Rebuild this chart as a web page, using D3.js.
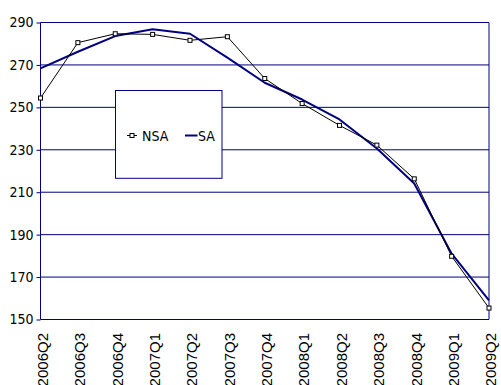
<!DOCTYPE html>
<html>
<head>
<meta charset="utf-8">
<script src="https://cdn.jsdelivr.net/npm/d3@7/dist/d3.min.js"></script>
<style>
  html, body { margin: 0; padding: 0; background: #fff; }
  svg { display: block; }
  .narrow { font-family: "Liberation Sans Narrow", "DejaVu Sans Condensed", "Liberation Sans", sans-serif; }
</style>
</head>
<body>
<svg id="chart" width="501" height="385"></svg>
<script>
// Quarterly series
const quarters = ["2006Q2","2006Q3","2006Q4","2007Q1","2007Q2","2007Q3","2007Q4",
                  "2008Q1","2008Q2","2008Q3","2008Q4","2009Q1","2009Q2"];
const nsa = [254.4, 280.5, 284.7, 284.4, 281.6, 283.3, 263.6, 251.8, 241.5, 232.2, 216.3, 179.8, 155.4];
const sa  = [268.4, 276.2, 283.6, 286.8, 284.7, 273.4, 261.6, 253.7, 244.3, 230.6, 214.1, 181.0, 159.0];
const yTicks = [150, 170, 190, 210, 230, 250, 270, 290];
const seriesNames = ["NSA", "SA"];

const navy = "#000080";
const svg = d3.select("#chart");

const x = d3.scalePoint().domain(quarters).range([40.5, 489]);
const y = d3.scaleLinear().domain([150, 290]).range([319.5, 22.5]);

// plot area background
svg.append("rect")
  .attr("x", x.range()[0]).attr("y", y(290))
  .attr("width", x.range()[1] - x.range()[0]).attr("height", y(150) - y(290))
  .attr("fill", "#fff");

// horizontal gridlines
svg.append("g").selectAll("line").data(yTicks).join("line")
  .attr("x1", x.range()[0]).attr("x2", x.range()[1])
  .attr("y1", d => y(d)).attr("y2", d => y(d))
  .attr("stroke", navy).attr("stroke-width", 1);

// right edge of plot area
svg.append("line")
  .attr("x1", x.range()[1]).attr("x2", x.range()[1])
  .attr("y1", y(290)).attr("y2", y(150))
  .attr("stroke", navy).attr("stroke-width", 1);

// y axis
const yAxis = d3.axisLeft(y).tickValues(yTicks).tickSize(4).tickPadding(3).tickFormat(d3.format("d"));
const gy = svg.append("g").attr("transform", `translate(${x.range()[0]},0)`).call(yAxis);
gy.select(".domain").attr("stroke", navy).attr("d", `M0,${y(290)}V${y(150)}`);
gy.selectAll(".tick line").attr("stroke", navy);
gy.selectAll(".tick text")
  .attr("class", "narrow")
  .attr("font-size", 14).attr("fill", "#000");
gy.attr("font-family", null);

// x axis labels (rotated)
const gx = svg.append("g");
gx.selectAll("text").data(quarters).join("text")
  .attr("transform", d => `translate(${x(d) + 2},333) rotate(-90)`)
  .attr("text-anchor", "end")
  .attr("dy", "0.35em")
  .attr("font-family", "'Liberation Sans', Arial, sans-serif")
  .attr("font-size", 15)
  .attr("fill", "#000")
  .text(d => d);

// series lines
const line = d3.line().x((d, i) => x(quarters[i])).y(d => y(d));

svg.append("path").datum(sa)
  .attr("d", line).attr("fill", "none")
  .attr("stroke", navy).attr("stroke-width", 2).attr("stroke-linejoin", "round");

svg.append("path").datum(nsa)
  .attr("d", line).attr("fill", "none")
  .attr("stroke", "#000").attr("stroke-width", 1);

svg.append("g").selectAll("rect").data(nsa).join("rect")
  .attr("x", (d, i) => x(quarters[i]) - 2)
  .attr("y", d => y(d) - 2)
  .attr("width", 4).attr("height", 4)
  .attr("fill", "#fff").attr("stroke", "#000").attr("stroke-width", 1);

// legend
const lg = svg.append("g");
lg.append("rect")
  .attr("x", 115.5).attr("y", 90.5).attr("width", 106.5).attr("height", 87.8)
  .attr("fill", "#fff").attr("stroke", navy).attr("stroke-width", 1);

lg.append("line").attr("x1", 127).attr("x2", 137).attr("y1", 135.5).attr("y2", 135.5)
  .attr("stroke", "#000").attr("stroke-width", 1);
lg.append("rect").attr("x", 130).attr("y", 133.5).attr("width", 4).attr("height", 4)
  .attr("fill", "#fff").attr("stroke", "#000").attr("stroke-width", 1);
lg.append("text").attr("class", "narrow").attr("x", 142).attr("y", 140.7)
  .attr("font-size", 14).attr("fill", "#000").text(seriesNames[0]);

lg.append("line").attr("x1", 185).attr("x2", 197.5).attr("y1", 135.5).attr("y2", 135.5)
  .attr("stroke", navy).attr("stroke-width", 2);
lg.append("text").attr("class", "narrow").attr("x", 198).attr("y", 140.7)
  .attr("font-size", 14).attr("fill", "#000").text(seriesNames[1]);
</script>
</body>
</html>
